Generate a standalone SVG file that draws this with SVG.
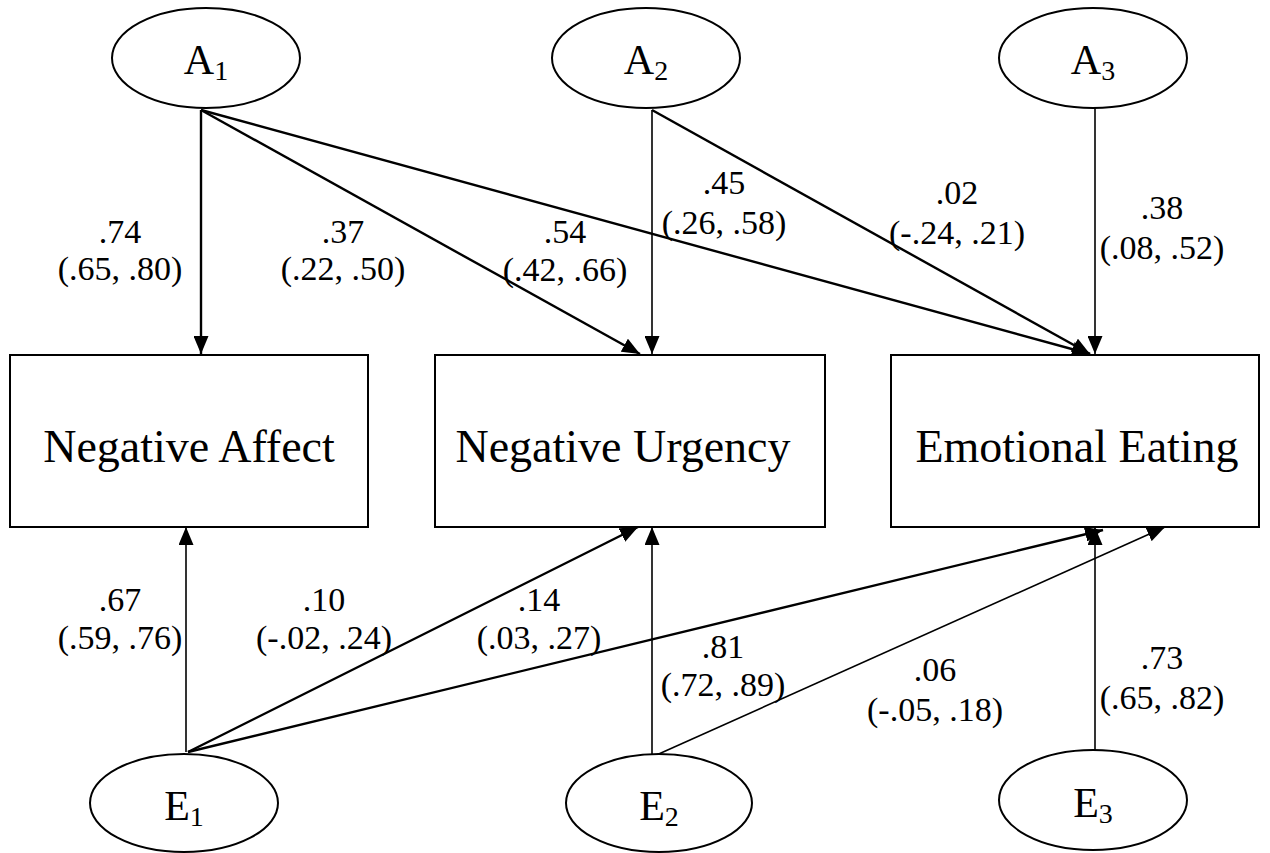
<svg xmlns="http://www.w3.org/2000/svg" width="1270" height="853" viewBox="0 0 1270 853">
<style>
.node{fill:#fff;stroke:#000;stroke-width:2}
.lbl{font-family:"Liberation Serif","Times New Roman",serif;font-size:46px;fill:#000;text-anchor:middle}
.var{font-family:"Liberation Serif","Times New Roman",serif;font-size:42px;fill:#000;text-anchor:middle}
.sub{font-size:28px}
.est{font-family:"Liberation Serif","Times New Roman",serif;font-size:34px;fill:#000;text-anchor:middle}
.thick{stroke:#000;stroke-width:2.4;fill:none;marker-end:url(#ah)}
.thin{stroke:#000;stroke-width:1.6;fill:none;marker-end:url(#ah)}
</style>
<defs>
<marker id="ah" markerUnits="userSpaceOnUse" markerWidth="19" markerHeight="15" refX="18" refY="7.5" orient="auto">
<path d="M0,0 L18,7.5 L0,15 z" fill="#000"/>
</marker>
</defs>
<rect width="1270" height="853" fill="#fff"/>
<g id="connectors">
<line class="thick" x1="201" y1="110" x2="201" y2="354"/>
<line class="thick" x1="201" y1="110" x2="640" y2="354"/>
<line class="thick" x1="201" y1="110" x2="1090" y2="354"/>
<line class="thin" x1="652" y1="110" x2="652" y2="354"/>
<line class="thick" x1="652" y1="110" x2="1090" y2="354"/>
<line class="thin" x1="1095" y1="108" x2="1095" y2="354"/>
<line class="thin" x1="186" y1="752" x2="186" y2="527"/>
<line class="thick" x1="188" y1="752" x2="638" y2="527"/>
<line class="thick" x1="188" y1="752" x2="1103" y2="530"/>
<line class="thin" x1="652" y1="755" x2="652" y2="527"/>
<line class="thin" x1="652" y1="757" x2="1165" y2="527"/>
<line class="thin" x1="1095" y1="750" x2="1095" y2="527"/>
</g>
<g id="A1"><ellipse class="node" cx="206" cy="58" rx="94" ry="50"/><text class="var" x="206" y="74">A<tspan class="sub" dy="6">1</tspan></text></g>
<g id="A2"><ellipse class="node" cx="646" cy="58" rx="94" ry="50"/><text class="var" x="646" y="74">A<tspan class="sub" dy="6">2</tspan></text></g>
<g id="A3"><ellipse class="node" cx="1093" cy="58" rx="94" ry="50"/><text class="var" x="1093" y="74">A<tspan class="sub" dy="6">3</tspan></text></g>
<g id="NA"><rect class="node" x="10" y="355" width="358" height="172"/><text class="lbl" x="189" y="462">Negative Affect</text></g>
<g id="NU"><rect class="node" x="435" y="355" width="390" height="172"/><text class="lbl" x="623" y="462">Negative Urgency</text></g>
<g id="EE"><rect class="node" x="891" y="355" width="368" height="172"/><text class="lbl" x="1077" y="462">Emotional Eating</text></g>
<g id="E1"><ellipse class="node" cx="184" cy="803" rx="94" ry="49"/><text class="var" x="184" y="820">E<tspan class="sub" dy="6">1</tspan></text></g>
<g id="E2"><ellipse class="node" cx="659" cy="803" rx="93" ry="49"/><text class="var" x="659" y="820">E<tspan class="sub" dy="6">2</tspan></text></g>
<g id="E3"><ellipse class="node" cx="1093" cy="800" rx="94" ry="50"/><text class="var" x="1093" y="817">E<tspan class="sub" dy="6">3</tspan></text></g>
<g id="labels">
<text class="est" x="120" y="243">.74</text><text class="est" x="120" y="280">(.65, .80)</text>
<text class="est" x="343" y="243">.37</text><text class="est" x="343" y="280">(.22, .50)</text>
<text class="est" x="565" y="243">.54</text><text class="est" x="565" y="281">(.42, .66)</text>
<text class="est" x="724" y="194">.45</text><text class="est" x="724" y="234">(.26, .58)</text>
<text class="est" x="957" y="204">.02</text><text class="est" x="957" y="244">(-.24, .21)</text>
<text class="est" x="1162" y="219">.38</text><text class="est" x="1162" y="259">(.08, .52)</text>
<text class="est" x="120" y="611">.67</text><text class="est" x="120" y="649">(.59, .76)</text>
<text class="est" x="324" y="611">.10</text><text class="est" x="324" y="649">(-.02, .24)</text>
<text class="est" x="539" y="611">.14</text><text class="est" x="539" y="649">(.03, .27)</text>
<text class="est" x="723" y="658">.81</text><text class="est" x="723" y="696">(.72, .89)</text>
<text class="est" x="935" y="681">.06</text><text class="est" x="935" y="721">(-.05, .18)</text>
<text class="est" x="1162" y="669">.73</text><text class="est" x="1162" y="709">(.65, .82)</text>
</g>
</svg>
